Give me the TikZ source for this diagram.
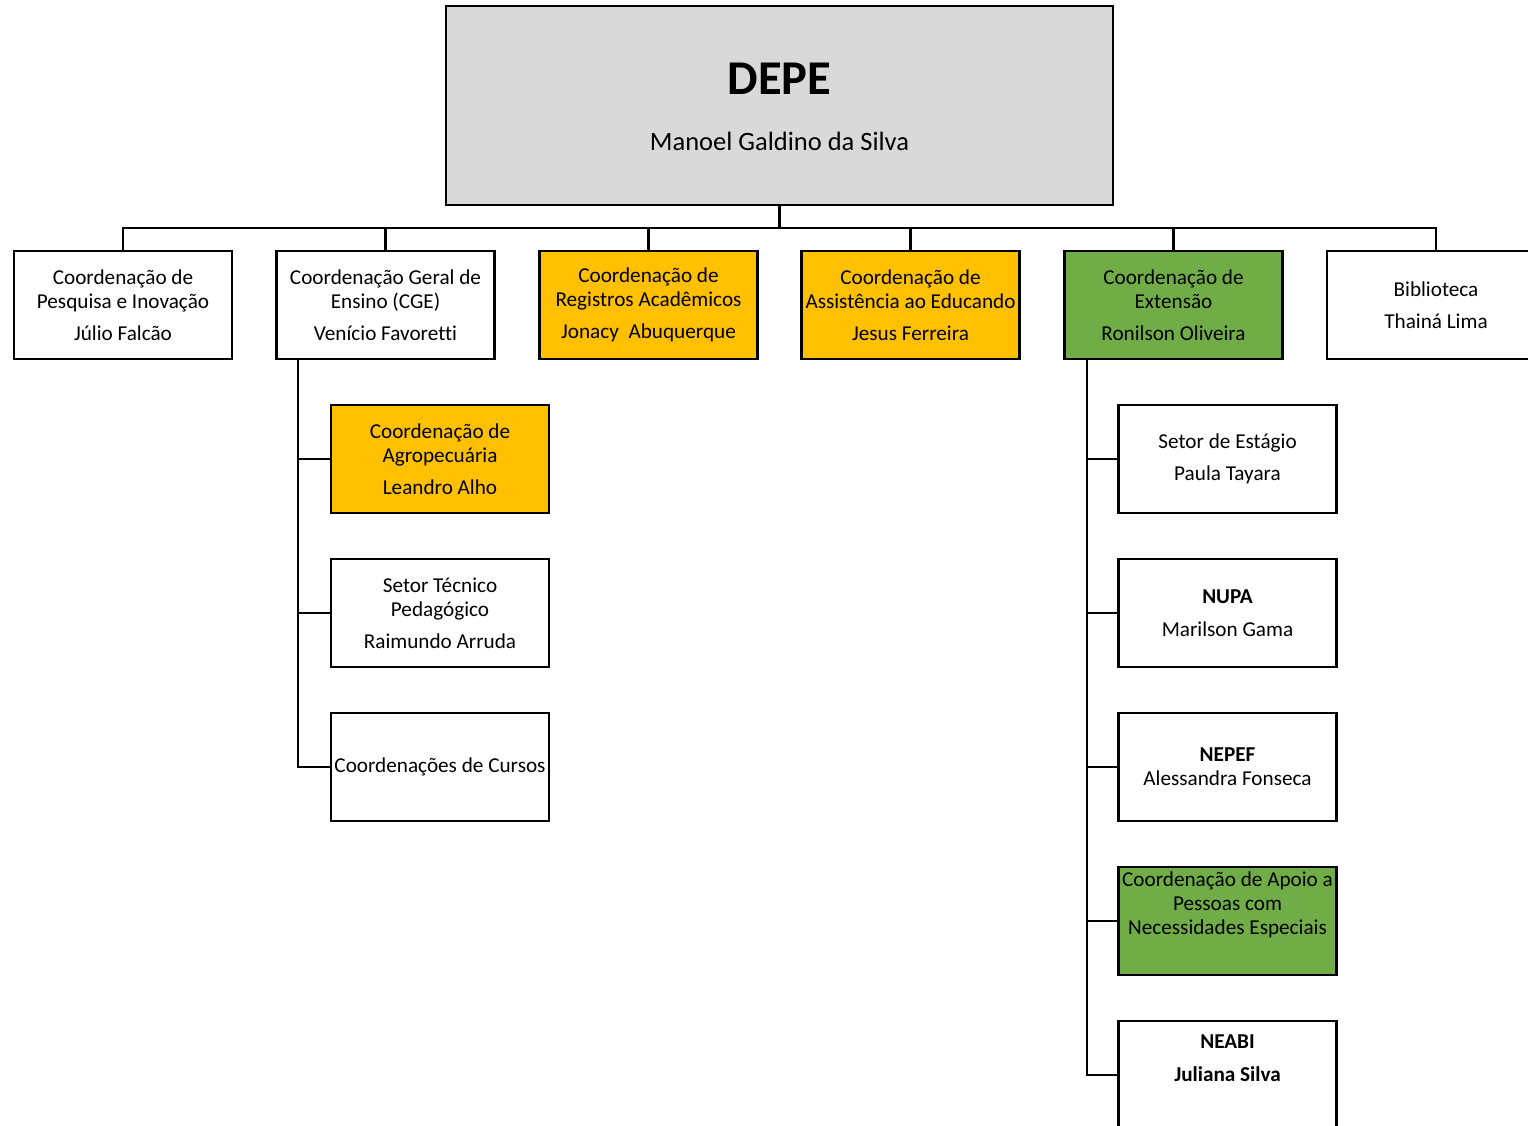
\documentclass[tikz,border=0pt]{standalone}
\usepackage{fontspec}
\setmainfont{Carlito}[Ligatures={NoCommon,TeX}]
\definecolor{boxgray}{HTML}{D9D9D9}
\definecolor{boxorange}{HTML}{FFC000}
\definecolor{boxgreen}{HTML}{70AD47}
\begin{document}
\begin{tikzpicture}[x=1pt,y=-1pt,
  orgbox/.style={draw, line width=2.7pt, minimum width=218pt, minimum height=108pt,
    inner sep=0pt, align=center, font=\fontsize{21.2}{24}\selectfont},
  lbl/.style={inner sep=0pt, align=center, font=\fontsize{21.2}{24}\selectfont},
  conn/.style={line width=2.7pt}]
\clip (0,0) rectangle (1528,1126);
\fill[white] (0,0) rectangle (1528,1126);
% top box
\node[draw, line width=2.7pt, fill=boxgray, minimum width=667pt, minimum height=199pt, inner sep=0pt] (depe) at (779.5,105.5) {};
\node[inner sep=0pt, font=\fontsize{48.5}{52}\selectfont\bfseries] (depet) at (779.5,79) {DEPE};
\node[inner sep=0pt, font=\fontsize{26.5}{30}\selectfont] (depen) at (779.5,141) {Manoel Galdino da Silva};
% first row
\node[orgbox] (c1) at (123,305) {Coordenação de\\Pesquisa e Inovação\\[8pt]Júlio Falcão};
\node[orgbox] (c2) at (385.5,305) {Coordenação Geral de\\Ensino (CGE)\\[8pt]Venício Favoretti};
\node[orgbox, fill=boxorange] (c3) at (648.5,305) {Coordenação de\\Registros Acadêmicos\\[8pt]Jonacy\ \ Abuquerque};
\node[orgbox, fill=boxorange] (c4) at (910.5,305) {Coordenação de\\Assistência ao Educando\\[8pt]Jesus Ferreira};
\node[orgbox, fill=boxgreen] (c5) at (1173.5,305) {Coordenação de\\Extensão\\[8pt]Ronilson Oliveira};
\node[orgbox] (c6) at (1436,305) {Biblioteca\\[8pt]Thainá Lima};
% left subtree
\node[orgbox, fill=boxorange] (l1) at (440,459) {Coordenação de\\Agropecuária\\[8pt]Leandro Alho};
\node[orgbox] (l2) at (440,613) {Setor Técnico\\Pedagógico\\[8pt]Raimundo Arruda};
\node[orgbox] (l3) at (440,767) {Coordenações de Cursos};
% right subtree
\node[orgbox] (r1) at (1227.5,459) {Setor de Estágio\\[8pt]Paula Tayara};
\node[orgbox] (r2) at (1227.5,613) {\textbf{NUPA}\\[9pt]Marilson Gama};
\node[orgbox] (r3) at (1227.5,767) {\textbf{NEPEF}\\Alessandra Fonseca};
\node[orgbox, fill=boxgreen] (r4) at (1227.5,921) {};
\node[lbl] (r4t) at (1227.5,905) {Coordenação de Apoio a\\Pessoas com\\Necessidades Especiais};
\node[orgbox] (r5) at (1227.5,1075) {};
\node[lbl, font=\fontsize{21.2}{24}\selectfont\bfseries] (r5t) at (1227.5,1058.5) {NEABI\\[9pt]Juliana Silva};
% connectors
\coordinate (bus) at (779.5,228);
\draw[conn] (depe.south) -- (bus);
\foreach \n in {c1,c2,c3,c4,c5,c6} { \draw[conn] (\n.north) |- (bus); }
\coordinate (lt) at (298,359);
\foreach \n in {l1,l2,l3} { \draw[conn] (lt) |- (\n.west); }
\coordinate (rt) at (1087,359);
\foreach \n in {r1,r2,r3,r4,r5} { \draw[conn] (rt) |- (\n.west); }
\end{tikzpicture}
\end{document}
